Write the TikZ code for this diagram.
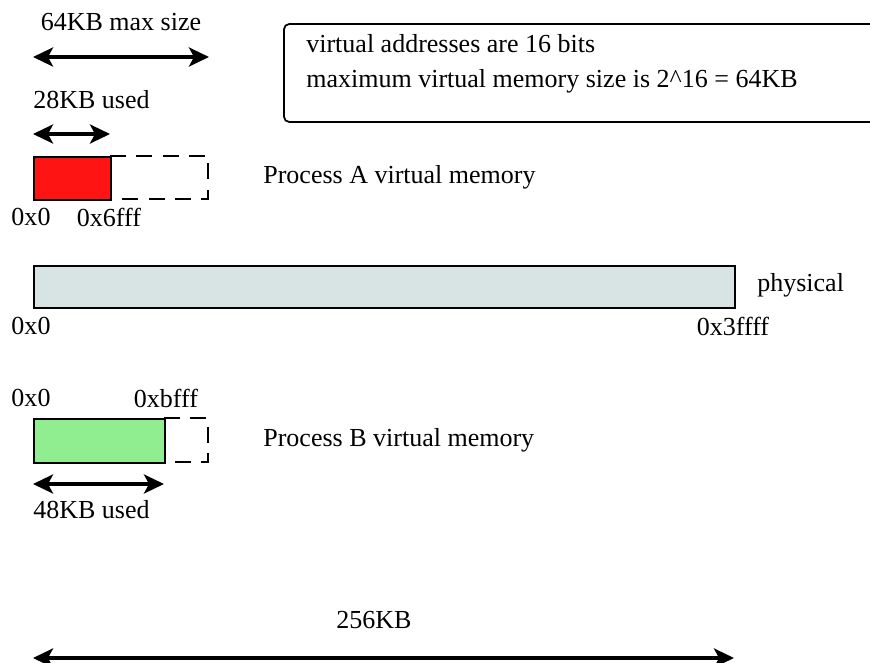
\documentclass[tikz,border=0pt]{standalone}
\usepackage{fontspec}
\setmainfont{Liberation Serif}
\usetikzlibrary{arrows.meta,positioning}
\definecolor{physfill}{RGB}{216,227,227}
\definecolor{usedb}{RGB}{144,238,144}
\definecolor{useda}{RGB}{255,20,20}

\begin{document}
\begin{tikzpicture}[
    x=0.02cm, y=-0.02cm,
    lbl/.style={font=\fontsize{14.8}{20}\selectfont, inner sep=0pt},
    mem/.style={draw, line width=1.2pt, fill=#1, anchor=north west, inner sep=0pt},
    mem/.default=white,
    free/.style={draw, dashed, dash pattern=on 9pt off 6pt, line width=1.2pt},
    dim/.style={{Stealth[length=4mm, width=3.8mm, inset=1mm]}-{Stealth[length=4mm, width=3.8mm, inset=1mm]}, line width=2pt}
]
\clip (0,0) rectangle (870,663);

% Note box
\draw[line width=1pt, rounded corners=3pt] (284,24) rectangle (900,122);
\node[lbl, anchor=west, align=left] (note) at (306,64) {virtual addresses are 16 bits\\[0pt]maximum virtual memory size is 2\^{}16 = 64KB};

% Process A
\node[lbl] (maxsize) at (121,22) {64KB max size};
\coordinate (maxl) at (33,57);
\coordinate (maxr) at (209,57);
\draw[dim] (maxl) -- (maxr);
\node[lbl, anchor=west] (useda) at (33,100) {28KB used};
\coordinate (useal) at (33,134);
\coordinate (usear) at (110,134);
\draw[dim] (useal) -- (usear);
\draw[free] (110,156) -- (208,156) -- (208,199) -- (110,199);
\node[mem=useda, minimum width=1.54cm, minimum height=0.86cm] (pa) at (33,156) {};
\node[lbl] (pa0) at (31,217) {0x0};
\node[lbl] (pa1) at (109,217) {0x6fff};
\node[lbl, anchor=west] (palbl) at (263,177) {Process A virtual memory};

% Physical
\node[mem=physfill, minimum width=14.02cm, minimum height=0.84cm] (phys) at (33,265) {};
\node[lbl, anchor=west] (physlbl) at (757,285) {physical};
\node[lbl] (ph0) at (31,326) {0x0};
\node[lbl] (ph1) at (733,326) {0x3ffff};

% Process B
\node[lbl] (pb0) at (31,398) {0x0};
\node[lbl] (pb1) at (166,398) {0xbfff};
\draw[free] (164,418) -- (208,418) -- (208,462) -- (164,462);
\node[mem=usedb, minimum width=2.62cm, minimum height=0.88cm] (pb) at (33,418) {};
\node[lbl, anchor=west] (pblbl) at (263,440) {Process B virtual memory};
\coordinate (usebl) at (33,484);
\coordinate (usebr) at (164,484);
\draw[dim] (usebl) -- (usebr);
\node[lbl, anchor=west] (usedb) at (33,510) {48KB used};

% Total
\node[lbl] (total) at (374,620) {256KB};
\coordinate (totl) at (33,658);
\coordinate (totr) at (734,658);
\draw[dim] (totl) -- (totr);

\end{tikzpicture}
\end{document}
